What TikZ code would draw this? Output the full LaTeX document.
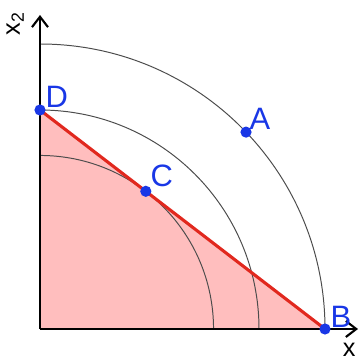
\documentclass[tikz,border=0pt]{standalone}
\usepackage{fontspec}
\setmainfont{Liberation Sans}
\usetikzlibrary{calc,arrows.meta,positioning}

\definecolor{ptblue}{RGB}{25,55,230}
\definecolor{lnred}{RGB}{225,40,30}
\definecolor{regpink}{RGB}{255,190,190}

\begin{document}
\begin{tikzpicture}[
    axis/.style={line width=1.5pt,-{Straight Barb[length=2.6mm,width=4mm,line width=1.5pt]}},
    circ/.style={draw=black!70,line width=0.7pt},
    budget/.style={draw=lnred,line width=2.2pt},
    pt/.style={circle,fill=ptblue,inner sep=0pt,minimum size=2.8mm},
    ptlabel/.style={text=ptblue,font=\fontsize{22}{26}\selectfont,inner sep=0pt},
    axlabel/.style={font=\fontsize{18}{20}\selectfont,inner sep=0pt},
]
\useasboundingbox (-1.0,-0.775) rectangle (8.0,8.225);

\def\ra{7.125}
\def\rb{5.475}

% ---- Points on the axes ----------------------------------------------------
\coordinate (O) at (0,0);
\coordinate (Dp) at (0,\rb);
\coordinate (Bp) at (\ra,0);
\coordinate (Cp) at ($(Dp)!(O)!(Bp)$);

% ---- Shaded region ---------------------------------------------------------
\fill[regpink] (O) -- (Dp) -- (Bp) -- cycle;

% ---- Arcs ------------------------------------------------------------------
\draw[circ] (\ra,0) arc (0:90:\ra);
\draw[circ] (\rb,0) arc (0:90:\rb);
\path let \p1 = (Cp), \n1 = {veclen(\x1,\y1)} in
    coordinate (Cx) at (\n1,0);
\draw[circ] let \p1 = (Cp), \n1 = {veclen(\x1,\y1)} in
    (Cx) arc (0:90:\n1);

% ---- Line D--B -------------------------------------------------------------
\draw[budget] (Dp) -- (Bp);

% ---- Axes ------------------------------------------------------------------
\coordinate (xend) at (7.95,0);
\coordinate (yend) at (0,7.85);
\draw[axis] (O) -- (xend);
\draw[axis] (O) -- (yend);
\node[axlabel] (xl) at ($(xend)+(-0.22,-0.52)$) {x};
\node[axlabel,rotate=90] (yl) at ($(yend)+(-0.62,-0.22)$) {x\textsubscript{2}};

% ---- Points ----------------------------------------------------------------
\node[pt] (A) at (43.7:\ra) {};
\node[pt] (B) at (Bp) {};
\node[pt] (C) at (Cp) {};
\node[pt] (D) at (Dp) {};

\node[ptlabel] at ($(A)+(0.35,0.33)$) {A};
\node[ptlabel] at ($(B)+(0.4,0.3)$) {B};
\node[ptlabel] at ($(C)+(0.4,0.38)$) {C};
\node[ptlabel] at ($(D)+(0.42,0.33)$) {D};

\end{tikzpicture}
\end{document}
